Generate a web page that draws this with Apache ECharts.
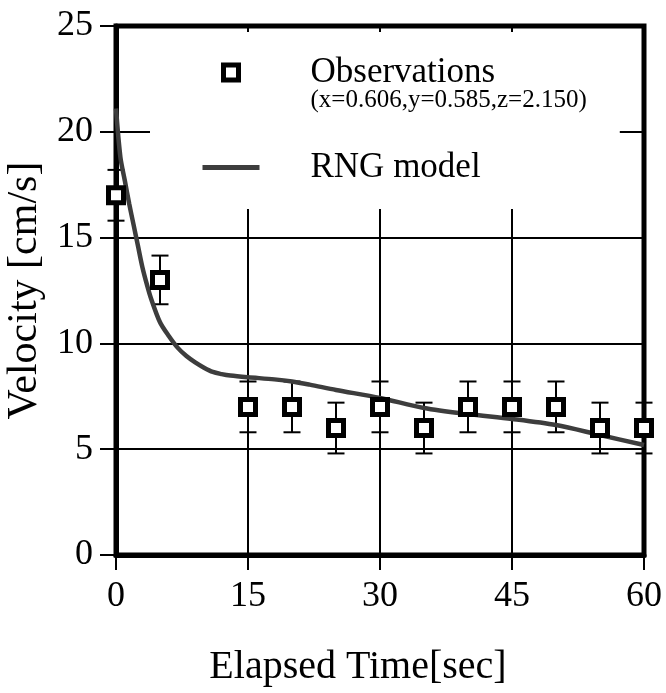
<!DOCTYPE html>
<html>
<head>
<meta charset="utf-8">
<script src="https://cdn.jsdelivr.net/npm/echarts@6/dist/echarts.min.js"></script>
<style>
html,body{margin:0;padding:0;background:#fff;}
#chart{width:666px;height:693px;}
</style>
</head>
<body>
<div id="chart"></div>
<script>
// ---- data ----
const obsTime = [0, 5, 15, 20, 25, 30, 35, 40, 45, 50, 55, 60];
const obsVel  = [17, 13, 7, 7, 6, 7, 6, 7, 7, 7, 6, 6];
const obsErr  = [1.2, 1.15, 1.2, 1.2, 1.2, 1.2, 1.2, 1.2, 1.2, 1.2, 1.2, 1.2];

const modelTime = [0, 0.5, 1, 1.5, 2, 2.5, 3, 3.5, 4, 5, 6, 7, 8, 9, 10, 11, 12, 13, 15, 18, 20, 22, 25, 30, 35, 40, 45, 50, 55, 60];
const modelVel  = [21.1, 18.8, 17.7, 16.6, 15.6, 14.6, 13.6, 12.8, 12.1, 11.0, 10.35, 9.8, 9.4, 9.1, 8.85, 8.65, 8.55, 8.48, 8.4, 8.3, 8.2, 8.05, 7.8, 7.42, 6.95, 6.66, 6.43, 6.14, 5.67, 5.2];

const xTicks = [0, 15, 30, 45, 60];
const yTicks = [0, 5, 10, 15, 20, 25];

const obsName = 'Observations';
const obsNote = '(x=0.606,y=0.585,z=2.150)';
const modelName = 'RNG model';
const xTitle = 'Elapsed Time[sec]';
const yTitle = 'Velocity [cm/s]';

// ---- build ----
const obsData = obsTime.map((t, i) => [t, obsVel[i]]);
const errData = obsTime.map((t, i) => [t, obsVel[i], obsErr[i]]);
const modelData = modelTime.map((t, i) => [t, modelVel[i]]);

const serif = '"Liberation Serif", "DejaVu Serif", serif';

const chart = echarts.init(document.getElementById('chart'), null, {renderer: 'canvas'});
chart.setOption({
  animation: false,
  backgroundColor: '#fff',
  grid: {
    left: 116, right: 22, top: 26, bottom: 138,
    show: true, borderColor: '#000', borderWidth: 5, backgroundColor: 'transparent',
    outerBoundsMode: 'none'
  },
  xAxis: {
    type: 'value', min: xTicks[0], max: xTicks[xTicks.length - 1], interval: 15,
    name: xTitle, nameLocation: 'middle', nameGap: 92,
    nameTextStyle: {fontFamily: serif, fontSize: 40, color: '#000', padding: [0, 44, 0, 0]},
    axisLine: {show: true, onZero: false, lineStyle: {color: '#000', width: 5}},
    axisTick: {show: true, inside: false, length: 15, lineStyle: {color: '#000', width: 2}},
    axisLabel: {fontFamily: serif, fontSize: 36, color: '#000', margin: 24},
    splitLine: {show: true, lineStyle: {color: '#000', width: 2}}
  },
  yAxis: {
    type: 'value', min: yTicks[0], max: yTicks[yTicks.length - 1], interval: 5,
    name: yTitle, nameLocation: 'middle', nameGap: 69, nameRotate: 90,
    nameTextStyle: {fontFamily: serif, fontSize: 42, color: '#000'},
    axisLine: {show: true, onZero: false, lineStyle: {color: '#000', width: 5}},
    axisTick: {show: true, inside: false, length: 16, lineStyle: {color: '#000', width: 2}},
    axisLabel: {fontFamily: serif, fontSize: 36, color: '#000', margin: 23},
    splitLine: {show: true, lineStyle: {color: '#000', width: 2}}
  },
  legend: {
    orient: 'vertical',
    left: 150, top: 32,
    padding: [0, 33, 24, 50],
    backgroundColor: '#fff',
    itemWidth: 57, itemHeight: 15, itemGap: 37,
    selectedMode: false,
    textStyle: {
      fontFamily: serif, fontSize: 35, color: '#000', padding: [0, 0, 0, 46], lineHeight: 32,
      rich: {
        c: {fontFamily: serif, fontSize: 25, lineHeight: 24},
        a: {fontFamily: serif, fontSize: 35, lineHeight: 32, color: '#000'},
        b: {fontFamily: serif, fontSize: 25, lineHeight: 24, color: '#000'}
      }
    },
    formatter: function (name) {
      if (name === obsName) return '{c| }\n{a|' + obsName + '}\n{b|' + obsNote + '}';
      return name;
    },
    data: [
      {name: obsName, icon: 'path://M0,0H10V10H0Z',
       itemStyle: {color: '#fff', borderColor: '#000', borderWidth: 5}},
      {name: modelName, lineStyle: {width: 5, color: '#3d3d3d'},
       itemStyle: {opacity: 0, color: '#3d3d3d', borderWidth: 0}}
    ]
  },
  series: [
    {
      name: 'errorbars', type: 'custom', z: 2,
      data: errData,
      renderItem: function (params, api) {
        const x = api.value(0), y = api.value(1), e = api.value(2);
        const top = api.coord([x, y + e]);
        const bot = api.coord([x, y - e]);
        const hw = 8.5;
        const st = {stroke: '#000', lineWidth: 2};
        return {
          type: 'group',
          children: [
            {type: 'line', shape: {x1: top[0], y1: top[1], x2: bot[0], y2: bot[1]}, style: st},
            {type: 'line', shape: {x1: top[0] - hw, y1: top[1], x2: top[0] + hw, y2: top[1]}, style: st},
            {type: 'line', shape: {x1: bot[0] - hw, y1: bot[1], x2: bot[0] + hw, y2: bot[1]}, style: st}
          ]
        };
      }
    },
    {
      name: modelName, type: 'line', z: 3,
      data: modelData, smooth: 0.3, symbol: 'none', showSymbol: false,
      lineStyle: {color: '#3d3d3d', width: 4.5},
      itemStyle: {color: '#3d3d3d'}
    },
    {
      name: obsName, type: 'scatter', z: 4,
      data: obsData, symbol: 'rect', symbolSize: 15,
      itemStyle: {color: '#fff', borderColor: '#000', borderWidth: 5, opacity: 1}
    }
  ]
});
</script>
</body>
</html>
